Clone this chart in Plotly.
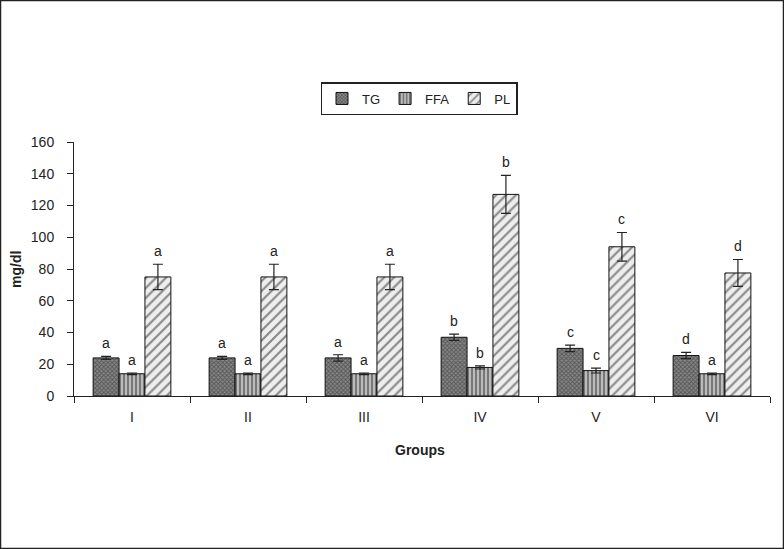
import plotly.graph_objects as go

groups = ["I", "II", "III", "IV", "V", "VI"]
tg = [24, 24, 24, 37, 30, 25.5]
tg_err = [1, 1, 2, 2, 2, 2]
ffa = [14, 14, 14, 18, 16, 14]
ffa_err = [0.5, 0.5, 0.5, 1, 1.5, 0.5]
pl = [75, 75, 75, 127, 94, 77.5]
pl_err = [8, 8, 8, 12, 9, 8.5]
tg_lbl = ["a", "a", "a", "b", "c", "d"]
ffa_lbl = ["a", "a", "a", "b", "c", "a"]
pl_lbl = ["a", "a", "a", "b", "c", "d"]

W, H = 784, 549
L, R, T, B = 74, 14, 142, 153
pw, ph = W - L - R, H - T - B
FONT = "Liberation Sans, Arial"

fig = go.Figure()
series = [
    ("TG", tg, tg_err, dict(shape="x", size=3, solidity=0.5, fgcolor="#222", bgcolor="#888")),
    ("FFA", ffa, ffa_err, dict(shape="|", size=4, solidity=0.4, fgcolor="#111", bgcolor="#bbb")),
    ("PL", pl, pl_err, dict(shape="/", size=7, solidity=0.3, fgcolor="#222", bgcolor="#eeeeee")),
]
for name, vals, errs, pat in series:
    fig.add_trace(go.Bar(
        name=name, x=groups, y=vals,
        error_y=dict(type="data", array=errs, color="#222", thickness=1.2, width=5),
        marker=dict(color=pat["bgcolor"], pattern=pat, line=dict(color="#111", width=1)),
    ))

bargap = 0.33
bw = pw / len(groups) * (1 - bargap) / 3
for i, (vals, errs, lbls) in enumerate([(tg, tg_err, tg_lbl), (ffa, ffa_err, ffa_lbl), (pl, pl_err, pl_lbl)]):
    for g, v, e, t in zip(groups, vals, errs, lbls):
        fig.add_annotation(x=g, y=v + e, text=t, showarrow=False, xref="x", yref="y",
                           xshift=(i - 1) * bw, yanchor="bottom", yshift=3,
                           font=dict(family=FONT, size=14, color="#222"))

# y-axis title
fig.add_annotation(text="<b>mg/dl</b>", xref="paper", yref="paper", x=(16 - L) / pw, y=(H - B - 270) / ph,
                   textangle=-90, showarrow=False, xanchor="center", yanchor="middle",
                   font=dict(family=FONT, size=14, color="#222"))
# x-axis title
fig.add_annotation(text="<b>Groups</b>", xref="paper", yref="paper", x=(420 - L) / pw, y=(H - B - 450) / ph,
                   showarrow=False, xanchor="center", yanchor="middle",
                   font=dict(family=FONT, size=14, color="#222"))

fig.add_shape(type="rect", xref="paper", yref="paper",
              x0=(0.5 - L) / pw, x1=(W - 0.5 - L) / pw,
              y0=(H - B - (H - 0.5)) / ph, y1=(H - B - 0.5) / ph,
              line=dict(color="#222", width=1.5))

fig.update_layout(
    width=W, height=H, margin=dict(l=L, r=R, t=T, b=B),
    paper_bgcolor="white", plot_bgcolor="white",
    barmode="group", bargap=bargap, bargroupgap=0,
    font=dict(family=FONT, size=14, color="#222"),
    showlegend=True,
    legend=dict(orientation="h", x=(419 - L) / pw, xanchor="center", y=(H - B - 82) / ph, yanchor="top",
                bordercolor="#222", borderwidth=1.5, font=dict(size=13),
                itemwidth=30, tracegroupgap=0),
    xaxis=dict(showline=True, linecolor="#222", linewidth=1, ticks="outside", tickson="boundaries",
               ticklen=6, tickcolor="#222", ticklabelstandoff=8, showgrid=False,
               tickfont=dict(size=14)),
    yaxis=dict(range=[0, 160], dtick=20, showline=True, linecolor="#222", linewidth=1, ticks="outside",
               ticklen=6, tickcolor="#222", showgrid=False, zeroline=False, ticklabelstandoff=10,
               tickfont=dict(size=14)),
)

fig.write_html("out.html", config={"displayModeBar": False},
               post_script="document.body.style.margin='0';document.body.style.overflow='hidden';")
